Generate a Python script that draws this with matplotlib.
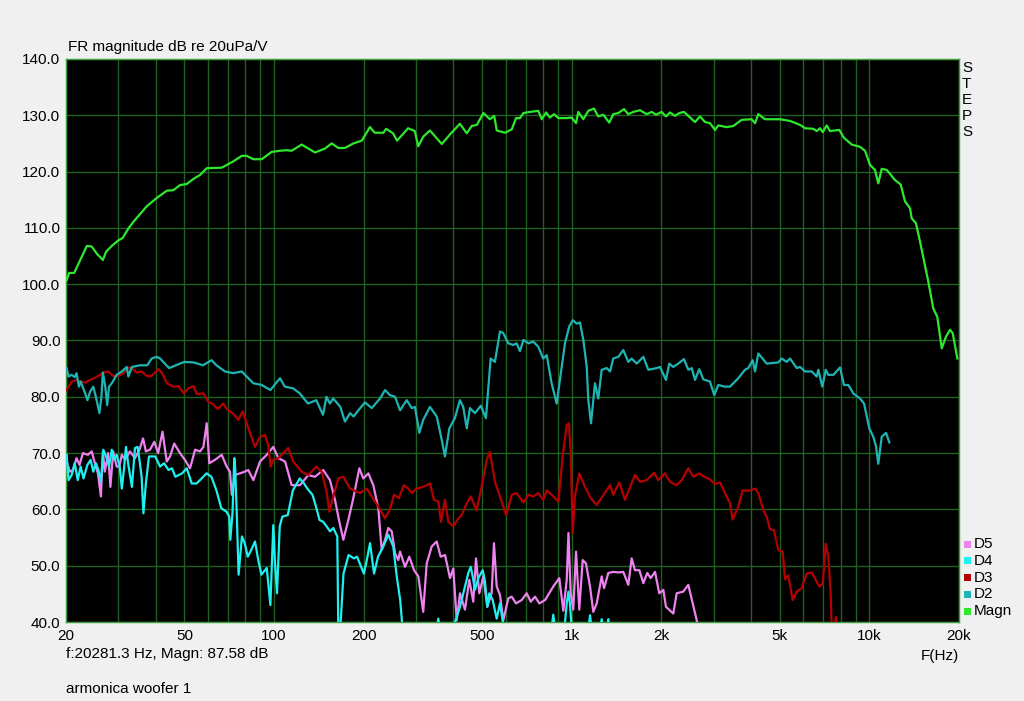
import matplotlib
matplotlib.use('Agg')
import matplotlib.pyplot as plt
from matplotlib.patches import Rectangle
from matplotlib.ticker import NullLocator

plt.rcParams['font.family'] = ['Liberation Sans', 'DejaVu Sans']

# ---------------- data (frequency in Hz, level in dB) ----------------
magn_f = [20.1, 20.5, 21.3, 23.5, 24.4, 25.4, 26.6, 27.3, 28.5, 30.0, 31.0, 32.4, 33.7, 37.3, 40.3,
          43.6, 45.9, 48.3, 50.9, 53.6, 56.4, 59.4, 66.7, 72.9, 77.9, 80.9, 85.2, 90.9, 98.2, 104.7,
          110.3, 114.6, 123.8, 130.3, 137.3, 148.3, 156.2, 164.4, 173.1, 184.6, 197, 210, 218, 233,
          238, 251, 259, 282, 297, 305, 317, 334, 366, 390, 421, 444, 461, 480, 505, 531, 549, 560,
          597, 629, 650, 670, 688, 724, 772, 793, 820, 845, 872, 902, 962, 1000, 1034, 1052, 1094,
          1137, 1188, 1228, 1277, 1337, 1379, 1434, 1498, 1549, 1610, 1696, 1786, 1856, 1919, 2005,
          2073, 2138, 2223, 2298, 2383, 2464, 2595, 2698, 2804, 2914, 3029, 3107, 3316, 3490, 3724,
          4023, 4128, 4235, 4461, 5008, 5412, 5847, 6078, 6479, 6653, 6825, 6969, 7188, 7373, 7922,
          8215, 8722, 9299, 9666, 10047, 10443, 10713, 11000, 11434, 12190, 12743, 13170, 13690,
          13870, 14340, 14790, 15780, 16390, 16910, 17500, 18090, 18660, 19050, 19750]
magn_db = [100.7, 102.0, 102.0, 106.8, 106.7, 105.4, 104.3, 105.8, 106.8, 107.8, 108.2, 109.9, 111.1,
           113.8, 115.3, 116.6, 116.7, 117.6, 117.8, 118.7, 119.4, 120.6, 120.7, 121.8, 122.8, 122.8,
           122.2, 122.2, 123.5, 123.7, 123.8, 123.7, 124.8, 124.1, 123.4, 124.1, 125.0, 124.2, 124.2,
           125.0, 125.5, 127.9, 126.9, 126.9, 127.6, 126.8, 125.5, 127.7, 127.2, 124.5, 126.2, 127.3,
           124.9, 126.6, 128.5, 126.8, 128.1, 128.3, 130.4, 129.3, 129.9, 127.3, 126.9, 127.5, 129.5,
           129.5, 130.4, 130.6, 130.8, 129.3, 130.5, 129.6, 130.2, 129.5, 129.5, 129.6, 128.6, 130.6,
           129.3, 130.8, 131.2, 129.8, 130.1, 128.7, 130.2, 130.4, 131.1, 130.2, 130.6, 130.9, 130.2,
           130.6, 130.1, 130.6, 129.8, 130.5, 129.9, 130.4, 130.6, 129.9, 128.8, 129.8, 128.8, 128.6,
           127.4, 128.2, 127.9, 128.1, 129.2, 129.3, 128.6, 130.2, 129.3, 129.3, 129.0, 128.3, 127.7,
           127.6, 127.2, 127.7, 127.0, 128.2, 127.2, 127.4, 126.0, 124.8, 124.4, 123.7, 121.2, 120.3,
           117.9, 120.5, 120.3, 118.5, 117.7, 114.7, 113.5, 111.7, 110.8, 107.6, 100.4, 95.7, 94.2,
           88.6, 90.7, 91.9, 91.3, 86.8]

d2_f = [20.1, 20.4, 20.9, 21.4, 21.7, 22.1, 22.4, 23.2, 23.6, 24.1, 24.7, 25.2, 25.9, 26.3, 26.6,
        27.1, 27.5, 27.9, 28.5, 29.6, 30.8, 32.0, 32.4, 33.3, 35.5, 37.5, 38.8, 40.3, 41.4, 44.4,
        46.8, 49.9, 53.7, 57.7, 61.7, 64.0, 68.4, 72.9, 77.9, 80.9, 85.2, 90.9, 97.2, 104.7, 108.7,
        116, 122, 130, 138.6, 146, 150, 154, 158, 167, 173, 180, 185, 192, 202, 213, 227, 236, 245,
        255, 265, 279, 290, 297.5, 307.6, 317, 334, 352, 366, 375, 388, 405, 421, 432, 444, 455, 473,
        495, 515, 525, 534, 552, 574, 589, 612, 636, 653, 670, 688, 715, 743, 772, 802, 824, 856, 890,
        925, 949, 981, 1008, 1039, 1066, 1094, 1123, 1137, 1161, 1182, 1197, 1228, 1261, 1311, 1345,
        1379, 1434, 1490, 1549, 1590, 1653, 1740, 1808, 1930, 1980, 2073, 2127, 2194, 2280, 2383,
        2464, 2530, 2595, 2682, 2767, 2914, 3012, 3107, 3272, 3401, 3627, 3819, 3918, 4054, 4128,
        4235, 4519, 4944, 5075, 5275, 5412, 5700, 5847, 6078, 6401, 6653, 6737, 6948, 7134, 7278,
        7565, 7968, 8215, 8495, 8830, 9299, 9593, 9993, 10307, 10525, 10713, 11000, 11373, 11668]
d2_db = [85.1, 83.6, 83.9, 83.5, 84.2, 81.8, 82.7, 80.6, 79.4, 80.9, 81.8, 80.0, 77.1, 80.0, 84.3,
         81.8, 78.5, 81.8, 82.4, 83.9, 84.5, 85.3, 83.6, 85.3, 85.6, 85.6, 86.8, 87.1, 86.8, 85.1,
         85.6, 86.2, 86.1, 85.6, 86.5, 85.6, 84.5, 84.2, 84.5, 83.6, 82.4, 82.1, 81.2, 83.3, 81.8,
         81.5, 80.6, 78.8, 79.4, 76.8, 80.0, 78.8, 79.7, 78.2, 75.6, 77.1, 76.5, 77.6, 79.0, 78.0,
         79.7, 81.2, 80.3, 80.0, 77.6, 79.4, 78.0, 78.2, 73.6, 75.9, 78.2, 76.5, 72.3, 69.4, 74.4,
         76.2, 79.4, 78.2, 74.4, 78.0, 77.1, 78.4, 76.2, 81.8, 86.8, 86.2, 91.6, 91.3, 89.5, 89.2,
         89.5, 88.1, 90.1, 89.5, 89.8, 88.9, 86.8, 87.4, 82.4, 78.8, 85.3, 89.5, 92.5, 93.6, 93.0,
         93.2, 90.1, 85.3, 79.4, 75.3, 79.4, 82.4, 79.7, 84.8, 85.1, 84.5, 86.8, 87.1, 88.3, 86.2,
         86.8, 85.9, 87.1, 84.8, 85.1, 85.3, 83.0, 85.9, 85.3, 85.9, 86.7, 84.8, 85.1, 83.0, 84.9,
         83.1, 82.7, 80.3, 82.1, 81.8, 81.8, 83.3, 84.8, 85.1, 86.5, 84.5, 87.7, 85.9, 86.1, 86.8,
         86.2, 86.8, 85.1, 85.3, 84.5, 84.5, 83.6, 84.8, 81.8, 84.8, 83.9, 83.9, 85.2, 82.1, 82.1,
         80.6, 79.7, 78.8, 74.4, 72.9, 71.2, 68.1, 72.9, 73.6, 71.9]

d3_f = [20.1, 20.9, 21.7, 23.2, 24.1, 25.3, 26.7, 27.7, 28.8, 30.0, 31.2, 32.4, 33.3, 34.6, 35.9,
        37.3, 38.8, 40.8, 42.1, 43.6, 45.9, 47.7, 49.8, 51.5, 53.6, 55.0, 57.9, 60.1, 62.3, 64.8,
        67.4, 70.1, 72.9, 75.8, 78.5, 81.6, 86.3, 89.7, 93.3, 95.6, 97.4, 99.4, 103.3, 111.6, 116,
        123.8, 130.3, 138.6, 144.5, 150.2, 153.3, 158.1, 164.4, 170.9, 179.9, 194.4, 204.8, 212.8,
        224, 236, 245, 253, 262.6, 272.9, 282.5, 290, 301.4, 317, 334, 344.5, 356.2, 363.7, 375,
        385, 400, 416, 427, 444, 458, 479, 498, 518, 531, 552, 574, 602, 629, 653, 688, 715, 743,
        772, 802, 824, 867, 902, 932, 962, 979, 992, 1008, 1025, 1060, 1108, 1158, 1213, 1345, 1379,
        1445, 1510, 1631, 1696, 1786, 1889, 1953, 2057, 2138, 2252, 2341, 2464, 2561, 2682, 2767,
        2914, 3029, 3148, 3272, 3401, 3473, 3627, 3752, 3918, 4128, 4235, 4401, 4519, 4634, 4780,
        4944, 5113, 5205, 5340, 5525, 5700, 5923, 6157, 6401, 6786, 6969, 7134, 7278, 7412, 7470,
        7603, 7722, 7841]
d3_db = [81.2, 82.7, 83.0, 82.5, 83.0, 83.5, 84.3, 84.5, 83.7, 83.7, 84.2, 85.2, 85.1, 84.3, 84.5,
         83.7, 83.7, 84.9, 84.2, 82.4, 81.8, 81.9, 80.6, 81.5, 81.9, 80.5, 80.6, 79.1, 78.7, 77.8,
         78.8, 77.6, 77.0, 75.9, 77.4, 74.7, 71.1, 72.9, 73.2, 71.4, 67.6, 68.8, 69.1, 70.9, 68.5,
         66.7, 66.1, 67.6, 66.7, 63.1, 59.6, 62.3, 65.5, 65.8, 63.7, 62.9, 63.7, 62.3, 60.5, 58.4,
         60.0, 62.6, 62.0, 64.3, 63.7, 62.9, 63.7, 64.0, 64.6, 61.7, 61.4, 57.8, 61.7, 57.8, 57.0,
         58.4, 59.0, 61.1, 62.3, 59.8, 64.0, 68.8, 70.2, 64.9, 62.3, 59.0, 62.6, 62.9, 61.2, 62.6,
         62.3, 62.9, 61.7, 63.4, 62.3, 61.4, 69.4, 75.0, 75.3, 70.0, 55.8, 62.3, 66.4, 64.0, 62.0,
         60.8, 64.3, 62.6, 64.8, 61.7, 66.1, 64.9, 65.2, 66.5, 65.2, 66.4, 64.9, 64.3, 65.2, 67.3,
         65.8, 66.4, 65.9, 65.3, 64.5, 64.8, 62.9, 61.1, 58.2, 60.5, 63.4, 63.3, 63.7, 62.9, 59.9,
         58.7, 56.5, 56.3, 52.8, 52.5, 47.6, 48.3, 43.9, 45.4, 46.0, 48.6, 48.8, 46.3, 46.8, 53.9,
         51.6, 45.1, 39.0, 38.5, 40.9, 38.5]

d4_f = [20.1, 20.4, 20.9, 21.4, 21.9, 22.4, 22.9, 23.6, 24.2, 24.7, 25.2, 25.7, 26.2, 26.7, 27.4,
        27.9, 28.5, 29.0, 29.6, 30.3, 30.8, 31.3, 31.8, 32.4, 33.3, 34.1, 34.8, 35.3, 35.9, 36.4,
        37.1, 38.0, 39.9, 41.4, 42.7, 44.2, 45.4, 46.6, 49.1, 50.9, 52.9, 54.9, 57.1, 59.3, 61.6,
        64.0, 66.5, 69.2, 70.7, 71.3, 72.5, 73.5, 74.0, 75.0, 76.0, 78.0, 79.7, 81.6, 83.8, 86.3,
        88.5, 90.7, 94.5, 97.2, 99.4, 100.6, 102.3, 104.5, 106.6, 111.2, 115.7, 122, 126.1, 129.3,
        134.6, 138.3, 142.2, 146.2, 150.1, 154.1, 158.1, 163.1, 164.4, 166.6, 171.1, 178.0, 185.3,
        190.0, 200.3, 204.9, 210.1, 216.7, 223.5, 232.7, 241.9, 251.5, 258.3, 265.3, 271, 349.9,
        356.2, 362.3, 399, 405.3, 421.4, 437.9, 449.3, 457.8, 464.8, 473.2, 485.5, 502.2, 511.2,
        520.4, 528.5, 542.6, 559.7, 574, 586.3, 597, 851.8, 867, 882, 942, 962, 975, 986, 1002,
        1134, 1152, 1170, 1235, 1261, 1284, 1304, 1327, 1350]
d4_db = [69.7, 65.2, 66.1, 68.2, 65.2, 67.6, 65.5, 67.9, 68.8, 66.7, 68.2, 67.0, 64.9, 70.6, 69.1,
         67.6, 70.6, 68.8, 69.7, 67.6, 63.7, 67.0, 71.1, 67.9, 64.0, 70.9, 71.1, 68.8, 65.8, 59.3,
         64.6, 69.4, 69.4, 67.6, 68.2, 67.0, 67.3, 65.8, 66.4, 67.3, 64.6, 64.6, 65.5, 66.4, 65.8,
         63.4, 60.2, 59.6, 58.7, 54.6, 59.3, 69.1, 67.6, 58.7, 48.4, 55.2, 54.0, 51.6, 52.8, 54.3,
         51.0, 48.4, 49.6, 43.0, 57.2, 51.0, 45.1, 57.0, 58.7, 59.0, 63.4, 65.5, 64.6, 63.7, 62.6,
         60.5, 58.1, 57.8, 57.0, 56.1, 56.7, 55.2, 38.0, 38.0, 48.6, 51.9, 51.3, 51.6, 48.6, 51.0,
         54.0, 48.6, 51.6, 53.4, 55.5, 53.4, 48.1, 43.9, 38.0, 38.0, 40.6, 38.0, 38.0, 40.0, 42.7,
         46.3, 48.7, 49.8, 48.1, 45.7, 47.8, 49.2, 47.2, 42.7, 45.1, 43.9, 40.6, 43.3, 40.2, 38.0,
         38.0, 41.3, 38.0, 38.0, 43.3, 45.4, 43.3, 38.0, 38.0, 41.2, 38.0, 38.0, 40.5, 38.0, 38.0,
         40.5, 38.0]

d5_f = [20.1, 20.6, 21.1, 21.7, 22.2, 22.8, 23.7, 24.4, 25.1, 25.6, 26.2, 26.6, 27.0, 27.7, 28.2,
        28.8, 29.6, 30.2, 30.8, 31.6, 32.8, 34.1, 35.3, 36.3, 37.1, 38.3, 39.6, 40.8, 42.2, 43.6,
        44.7, 46.2, 48.3, 50.2, 52.2, 54.3, 56.4, 57.9, 59.4, 60.6, 63.3, 66.7, 69.3, 71.1, 72.1,
        73.9, 76.8, 79.7, 81.9, 85.2, 89.7, 94.5, 99.4, 103.4, 108.9, 114.6, 122.2, 130.3, 137.3,
        146.2, 154.1, 160.2, 165.7, 170.9, 177.6, 184.6, 193.4, 199.4, 207.4, 215.5, 224.0, 229.9,
        236, 242, 248.5, 255, 261.4, 265, 275.4, 284.7, 295.3, 305.3, 317, 325.7, 338.5, 351.8,
        362.9, 375.3, 390.0, 400.1, 410.8, 421.4, 437.9, 452.8, 467.0, 476.9, 489.2, 504.7, 520.4,
        538.4, 548.0, 559.7, 574, 589, 612.3, 628.7, 649.9, 679.2, 706, 728.3, 752.9, 778.3, 813.5,
        867, 908.3, 937, 962, 975, 992, 1012, 1034, 1060, 1088.5, 1116.6, 1152, 1181.6, 1213, 1261,
        1284, 1327, 1379, 1434, 1490, 1549, 1590, 1631, 1687, 1740, 1794, 1842, 1905, 1968, 2031,
        2073, 2194, 2252, 2370, 2464, 2561, 2630, 2670]
d5_db = [68.5, 66.7, 67.0, 69.1, 67.9, 70.0, 69.7, 70.3, 67.9, 66.4, 62.3, 70.3, 66.7, 70.0, 64.0,
         70.3, 67.6, 67.6, 69.7, 68.8, 70.3, 69.1, 70.6, 72.6, 70.3, 70.6, 72.0, 70.0, 73.8, 68.5,
         69.4, 71.7, 70.0, 68.8, 67.3, 70.6, 70.3, 71.1, 75.3, 68.2, 68.8, 69.7, 67.6, 66.7, 62.6,
         66.1, 66.4, 66.7, 67.0, 65.2, 68.5, 69.7, 71.1, 69.1, 68.5, 64.3, 64.3, 66.1, 65.8, 67.0,
         65.2, 61.7, 57.8, 54.6, 58.1, 62.0, 67.3, 65.5, 66.4, 64.3, 60.2, 52.8, 54.6, 56.7, 56.1,
         52.2, 51.0, 52.5, 49.8, 51.6, 49.2, 48.1, 41.8, 50.4, 53.4, 54.3, 51.6, 51.9, 47.8, 49.5,
         40.3, 45.1, 42.2, 47.5, 43.6, 51.3, 45.1, 48.1, 42.7, 45.2, 54.0, 46.3, 44.8, 40.3, 44.2,
         44.5, 43.3, 43.9, 45.1, 43.6, 44.5, 43.3, 43.9, 46.3, 47.8, 42.0, 47.5, 55.8, 45.1, 42.2,
         52.5, 42.2, 51.0, 50.4, 46.3, 41.8, 43.3, 48.1, 46.0, 48.7, 48.9, 48.8, 48.9, 46.6, 51.3,
         49.2, 49.2, 46.9, 48.7, 47.8, 48.9, 45.1, 45.7, 42.7, 41.5, 45.1, 45.4, 46.6, 42.9, 40.3,
         38.0]

grid_freqs = [20, 30, 40, 50, 60, 70, 80, 90, 100, 200, 300, 400, 500, 600, 700, 800, 900,
              1000, 2000, 3000, 4000, 5000, 6000, 7000, 8000, 9000, 10000, 20000]
x_labels = {20: '20', 50: '50', 100: '100', 200: '200', 500: '500', 1000: '1k',
            2000: '2k', 5000: '5k', 10000: '10k', 20000: '20k'}
y_ticks = [40, 50, 60, 70, 80, 90, 100, 110, 120, 130, 140]

legend_names = ['D5', 'D4', 'D3', 'D2', 'Magn']
colors = {'Magn': '#2ee82e', 'D2': '#1fb4b4', 'D3': '#b40000', 'D4': '#1ef0f0', 'D5': '#ee82ee'}

# ---------------- figure ----------------
W, H = 1024, 701
fig = plt.figure(figsize=(W / 100, H / 100), dpi=100, facecolor='#f0f0f0')
ax = fig.add_axes([66 / W, 1 - 622 / H, (959 - 66) / W, (622 - 59) / H])
ax.set_facecolor('black')

plot_order = [('Magn', magn_f, magn_db), ('D2', d2_f, d2_db), ('D3', d3_f, d3_db),
              ('D4', d4_f, d4_db), ('D5', d5_f, d5_db)]
for name, f, db in reversed(plot_order):
    ax.plot(f, db, color=colors[name], lw=1.6, zorder=3)

fs = 11

ax.set_xscale('log')
ax.set_xlim(20, 20000)
ax.set_ylim(40, 140)
ax.set_xticks(grid_freqs)
ax.set_xticklabels([x_labels.get(g, '') for g in grid_freqs])
ax.xaxis.set_minor_locator(NullLocator())
ax.set_yticks(y_ticks)
ax.set_yticklabels(['%.1f' % v for v in y_ticks])
ax.tick_params(length=0, labelsize=fs, colors='black', pad=4)
ax.tick_params(axis='x', pad=5)
ax.grid(True, color='#1f5f1f', lw=1.0, zorder=1)
ax.set_axisbelow(True)
for s in ax.spines.values():
    s.set_color('#3c9c3c')
    s.set_linewidth(1.0)

fig.text(68 / W, 1 - 47.5 / H, 'FR magnitude dB re 20uPa/V', fontsize=fs, va='center', ha='left')
fig.text(66 / W, 1 - 654 / H, 'f:20281.3 Hz, Magn: 87.58 dB', fontsize=fs, va='center', ha='left')
fig.text(66 / W, 1 - 689 / H, 'armonica woofer 1', fontsize=fs, va='center', ha='left')
fig.text(921 / W, 1 - 656 / H, 'F(Hz)', fontsize=fs, va='center', ha='left')

for i, ch in enumerate('STEPS'):
    fig.text(962 / W, 1 - (68.3 + 16 * i) / H, ch, fontsize=fs, va='center', ha='left')

for i, name in enumerate(legend_names):
    yc = 544 + 16.8 * i
    fig.add_artist(Rectangle((964 / W, 1 - (yc + 3.5) / H), 7 / W, 7 / H,
                             transform=fig.transFigure, facecolor=colors[name],
                             edgecolor='none'))
    fig.text(974 / W, 1 - yc / H, name, fontsize=fs, va='center', ha='left')

fig.savefig('out.png', dpi=100, facecolor=fig.get_facecolor())
